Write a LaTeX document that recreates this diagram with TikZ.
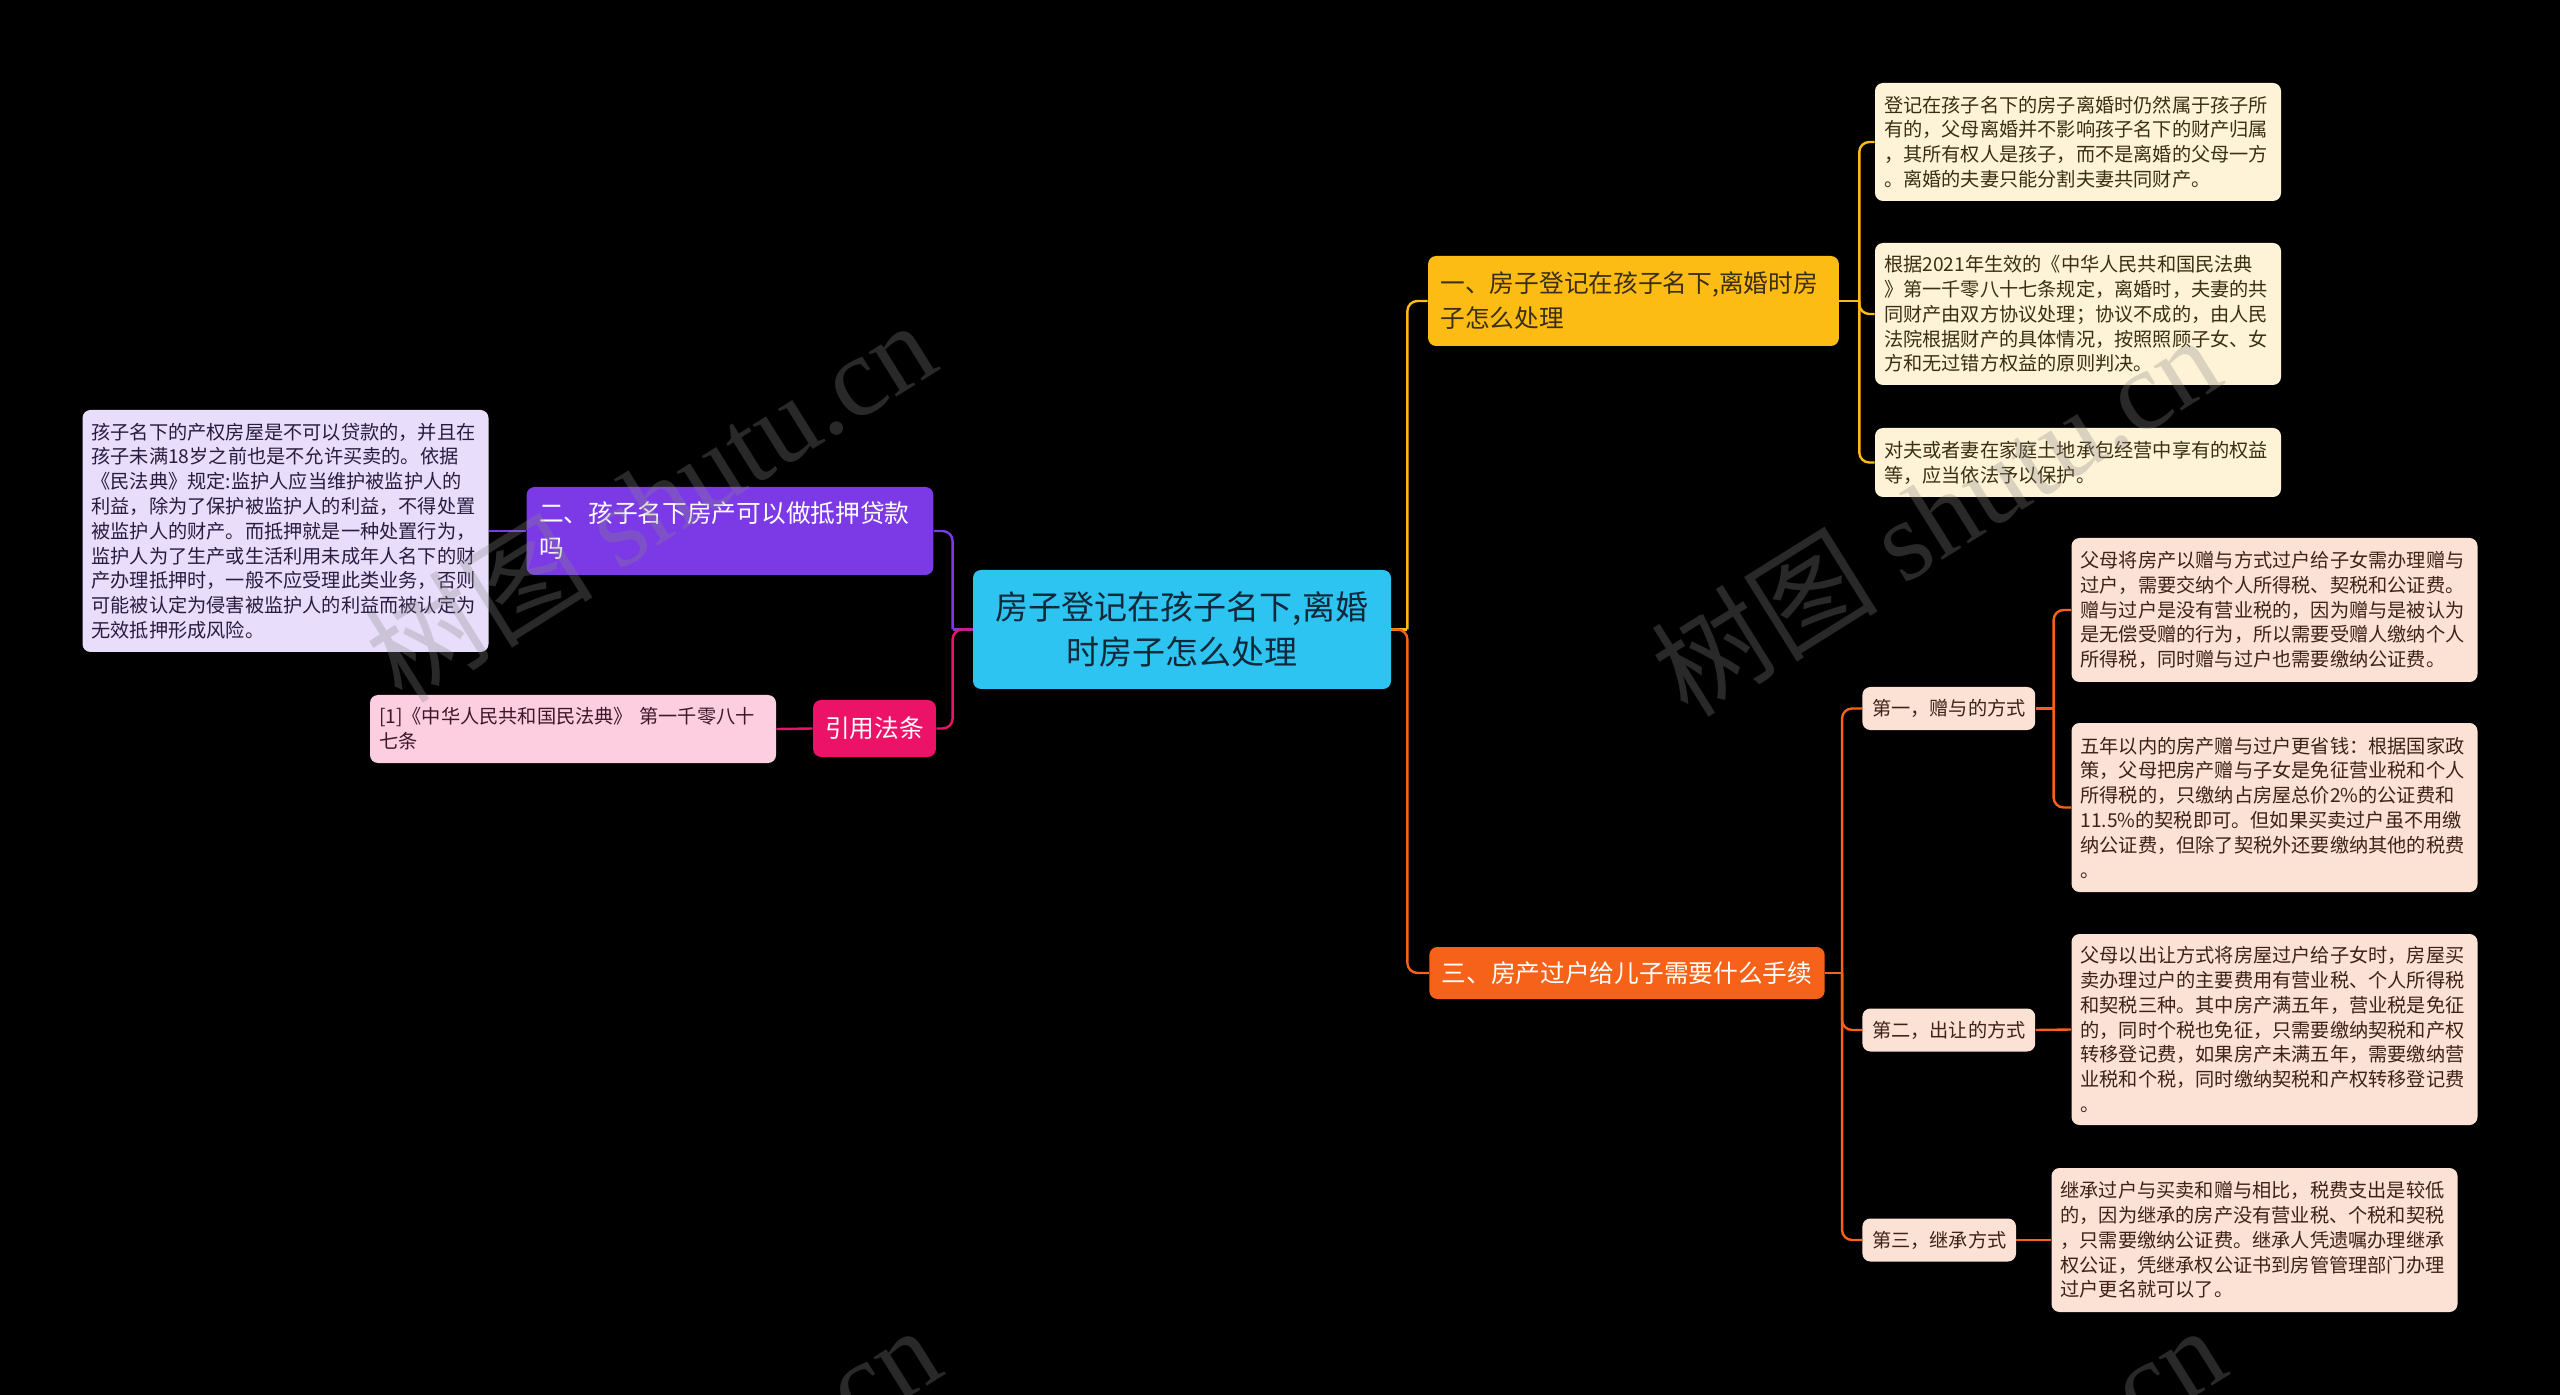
\documentclass[tikz,border=0pt]{standalone}
\usepackage{fontspec}
\setmainfont{Noto Sans CJK SC}
\newfontfamily\wmfont{Liberation Serif}

\definecolor{rootBlue}{RGB}{45,196,241}
\definecolor{rootText}{RGB}{16,40,56}
\definecolor{brYellow}{RGB}{253,188,20}
\definecolor{yLeaf}{RGB}{254,243,214}
\definecolor{yText}{RGB}{58,46,20}
\definecolor{brOrange}{RGB}{246,98,26}
\definecolor{oLeaf}{RGB}{252,226,212}
\definecolor{oText}{RGB}{62,34,24}
\definecolor{brPurple}{RGB}{124,58,230}
\definecolor{pLeaf}{RGB}{232,221,250}
\definecolor{pText}{RGB}{40,28,64}
\definecolor{brPink}{RGB}{236,18,104}
\definecolor{kLeaf}{RGB}{252,206,224}
\definecolor{kText}{RGB}{60,24,40}
\definecolor{wmGray}{RGB}{136,136,136}

\begin{document}
\begin{tikzpicture}[x=0.5pt,y=-0.5pt,
  link/.style={draw=#1, line width=1.2pt, rounded corners=5pt},
  box/.style={rounded corners=4pt, inner ysep=0pt},
  branch/.style={box, inner xsep=6.2pt, align=left, font=\fontsize{12.35}{17.5}\selectfont},
  leaf/.style={box, inner xsep=4.5pt, text width=194pt, align=left, font=\fontsize{9.6}{12.4}\selectfont},
  subbr/.style={box, inner xsep=4.8pt, minimum height=21.5pt, anchor=west, fill=oLeaf, text=oText, font=\fontsize{9.6}{12.4}\selectfont},
  wmark/.style={text=wmGray, text opacity=0.3, rotate=32, font=\fontsize{57}{57}\selectfont}]

\fill[black] (0,0) rectangle (2560,1395);
\useasboundingbox (0,0) rectangle (2560,1395);

% ---------- root ----------
\node[box, fill=rootBlue, text=rootText, minimum width=209pt, minimum height=59.5pt, align=center,
  font=\fontsize{16.5}{22.5}\selectfont] (root) at (1182,629.5) {房子登记在孩子名下,离婚\\时房子怎么处理};

% ---------- branch one ----------
\node[branch, fill=brYellow, text=yText, text width=193pt, minimum height=45pt] (b1) at (1633.5,301)
  {一、房子登记在孩子名下,离婚时房\\子怎么处理};
\node[leaf, fill=yLeaf, text=yText, minimum height=59pt] (l1a) at (2078,142)
  {登记在孩子名下的房子离婚时仍然属于孩子所\\有的，父母离婚并不影响孩子名下的财产归属\\，其所有权人是孩子，而不是离婚的父母一方\\。离婚的夫妻只能分割夫妻共同财产。};
\node[leaf, fill=yLeaf, text=yText, minimum height=71pt] (l1b) at (2078,314)
  {根据2021年生效的《中华人民共和国民法典\\》第一千零八十七条规定，离婚时，夫妻的共\\同财产由双方协议处理；协议不成的，由人民\\法院根据财产的具体情况，按照照顾子女、女\\方和无过错方权益的原则判决。};
\node[leaf, fill=yLeaf, text=yText, minimum height=34.5pt] (l1c) at (2078,462.5)
  {对夫或者妻在家庭土地承包经营中享有的权益\\等，应当依法予以保护。};

% ---------- branch three ----------
\node[branch, fill=brOrange, text=white, minimum height=26pt] (b3) at (1627,973) {三、房产过户给儿子需要什么手续};
\node[subbr] (s1) at (1862,708.5) {第一，赠与的方式};
\node[subbr] (s2) at (1862,1030) {第二，出让的方式};
\node[subbr] (s3) at (1862,1240) {第三，继承方式};
\node[leaf, fill=oLeaf, text=oText, minimum height=72pt] (la1) at (2274.5,610)
  {父母将房产以赠与方式过户给子女需办理赠与\\过户，需要交纳个人所得税、契税和公证费。\\赠与过户是没有营业税的，因为赠与是被认为\\是无偿受赠的行为，所以需要受赠人缴纳个人\\所得税，同时赠与过户也需要缴纳公证费。};
\node[leaf, fill=oLeaf, text=oText, minimum height=84.5pt] (la2) at (2274.5,807.5)
  {五年以内的房产赠与过户更省钱：根据国家政\\策，父母把房产赠与子女是免征营业税和个人\\所得税的，只缴纳占房屋总价2\%的公证费和\\11.5\%的契税即可。但如果买卖过户虽不用缴\\纳公证费，但除了契税外还要缴纳其他的税费\\。};
\node[leaf, fill=oLeaf, text=oText, minimum height=95.5pt] (lb) at (2274.5,1029.5)
  {父母以出让方式将房屋过户给子女时，房屋买\\卖办理过户的主要费用有营业税、个人所得税\\和契税三种。其中房产满五年，营业税是免征\\的，同时个税也免征，只需要缴纳契税和产权\\转移登记费，如果房产未满五年，需要缴纳营\\业税和个税，同时缴纳契税和产权转移登记费\\。};
\node[leaf, fill=oLeaf, text=oText, minimum height=72pt] (lcc) at (2254.5,1240)
  {继承过户与买卖和赠与相比，税费支出是较低\\的，因为继承的房产没有营业税、个税和契税\\，只需要缴纳公证费。继承人凭遗嘱办理继承\\权公证，凭继承权公证书到房管管理部门办理\\过户更名就可以了。};

% ---------- branch two ----------
\node[branch, fill=brPurple, text=white, text width=191pt, minimum height=44pt] (b2) at (730,531)
  {二、孩子名下房产可以做抵押贷款\\吗};
\node[leaf, fill=pLeaf, text=pText, minimum height=121pt] (lp) at (285.5,531)
  {孩子名下的产权房屋是不可以贷款的，并且在\\孩子未满18岁之前也是不允许买卖的。依据\\《民法典》规定:监护人应当维护被监护人的\\利益，除为了保护被监护人的利益，不得处置\\被监护人的财产。而抵押就是一种处置行为，\\监护人为了生产或生活利用未成年人名下的财\\产办理抵押时，一般不应受理此类业务，否则\\可能被认定为侵害被监护人的利益而被认定为\\无效抵押形成风险。};

% ---------- citation ----------
\node[branch, fill=brPink, text=white, minimum height=28.5pt, inner xsep=6pt] (cite) at (874.5,728.5) {引用法条};
\node[leaf, fill=kLeaf, text=kText, minimum height=34pt] (lc) at (573,729)
  {[1]《中华人民共和国民法典》~第一千零八十\\七条};

% ---------- connectors ----------
\draw[link=brYellow] (root.east) -- ++(16,0) coordinate (rj);
\draw[link=brYellow] (rj) |- (b1.west);
\draw[link=brOrange] (root.east) -- (rj) |- (b3.west);
\draw[link=brPurple] (root.west) -- ++(-20,0) coordinate (lj);
\draw[link=brPurple] (lj) |- (b2.east);
\draw[link=brPink] (root.west) -- (lj) |- (cite.east);

\draw[link=brYellow] (b1.east) -- ++(20,0) coordinate (yj);
\draw[link=brYellow] (yj) |- (l1a.west);
\draw[link=brYellow] (yj) |- (l1b.west);
\draw[link=brYellow] (yj) |- (l1c.west);

\draw[link=brOrange] (b3.east) -- ++(17,0) coordinate (oj);
\draw[link=brOrange] (oj) |- (s1.west);
\draw[link=brOrange] (oj) |- (s2.west);
\draw[link=brOrange] (oj) |- (s3.west);
\draw[link=brOrange] (s1.east) -- ++(18,0) coordinate (gj);
\draw[link=brOrange] (gj) |- (la1.west);
\draw[link=brOrange] (gj) |- (la2.west);
\draw[link=brOrange] (s2.east) -- (lb.west);
\draw[link=brOrange] (s3.east) -- (lcc.west);

\draw[link=brPurple] (b2.west) -- (lp.east);
\draw[link=brPink] (cite.west) -- (lc.east);

% ---------- watermarks ----------
\node[wmark] (wm1) at (650,500) {树图 {\wmfont shutu.cn}};
\node[wmark] (wm2) at (1935,514) {树图 {\wmfont shutu.cn}};
\node[wmark] (wm3) at (655,1505) {树图 {\wmfont shutu.cn}};
\node[wmark] (wm4) at (1940,1505) {树图 {\wmfont shutu.cn}};

\end{tikzpicture}
\end{document}
